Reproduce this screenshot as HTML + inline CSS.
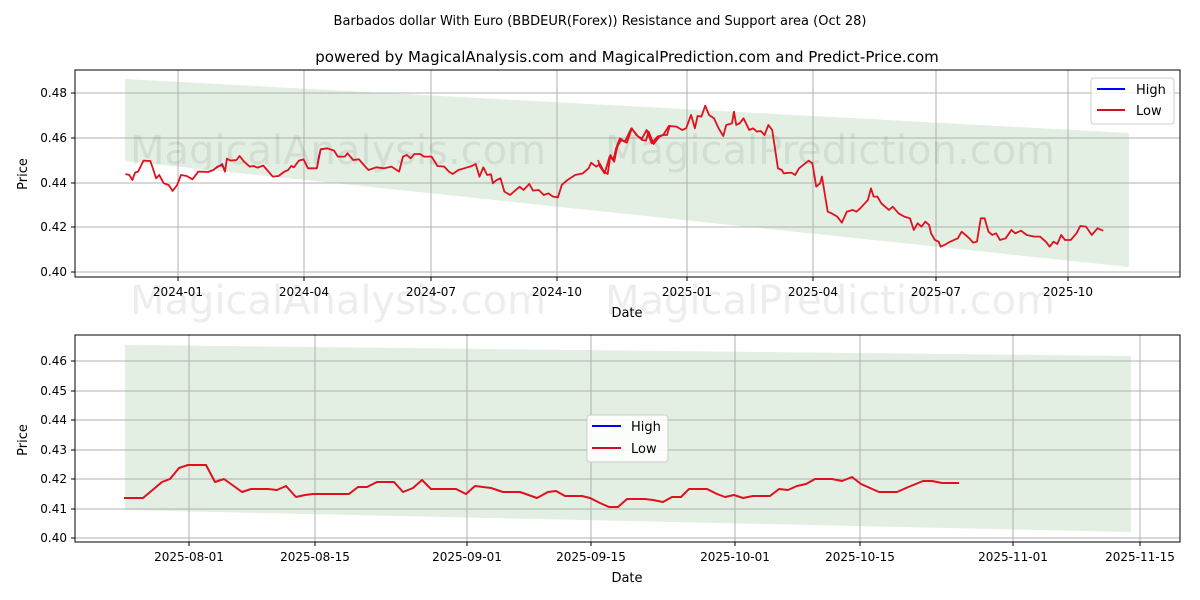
<!DOCTYPE html>
<html><head><meta charset="utf-8"><style>
body{margin:0;background:#fff;}
svg{display:block;font-family:"DejaVu Sans","Liberation Sans",sans-serif;}
</style></head><body>
<svg width="1200" height="600" viewBox="0 0 1200 600">
<text x="600" y="25" font-size="13" text-anchor="middle">Barbados dollar With Euro (BBDEUR(Forex)) Resistance and Support area (Oct 28)</text>
<text x="627" y="62" font-size="15" text-anchor="middle">powered by MagicalAnalysis.com and MagicalPrediction.com and Predict-Price.com</text>

<!-- TOP -->
<polygon points="125,79 1129,133 1129,267 125,161" fill="#e2efe2"/>
<g stroke="#b0b0b0" stroke-width="1">
<line x1="75" x2="1180" y1="93" y2="93"/><line x1="75" x2="1180" y1="138" y2="138"/><line x1="75" x2="1180" y1="183" y2="183"/><line x1="75" x2="1180" y1="227" y2="227"/><line x1="75" x2="1180" y1="272" y2="272"/>
<line x1="178" x2="178" y1="70" y2="277"/><line x1="304" x2="304" y1="70" y2="277"/><line x1="431" x2="431" y1="70" y2="277"/><line x1="557" x2="557" y1="70" y2="277"/><line x1="687" x2="687" y1="70" y2="277"/><line x1="813" x2="813" y1="70" y2="277"/><line x1="936" x2="936" y1="70" y2="277"/><line x1="1068" x2="1068" y1="70" y2="277"/>
</g>
<g font-size="40" fill="#000" fill-opacity="0.07">
<text x="130" y="164">MagicalAnalysis.com</text><text x="605" y="164">MagicalPrediction.com</text>
<text x="130" y="314">MagicalAnalysis.com</text><text x="605" y="314">MagicalPrediction.com</text>
<text x="130" y="466">MagicalAnalysis.com</text><text x="605" y="466">MagicalPrediction.com</text>
</g>
<g transform="translate(70,60) scale(0.3827,0.3333)" fill="none" stroke-linejoin="round">
<polyline vector-effect="non-scaling-stroke" stroke="#0000ff" stroke-width="1.5" points="380,325 398,312 405,335"/>
<polyline vector-effect="non-scaling-stroke" stroke="#0000ff" stroke-width="1.5" points="645,325 650,290 655,268"/>
<polyline vector-effect="non-scaling-stroke" stroke="#e0101e" stroke-width="1.8" points="145,342 155,345 163,360 170,338 178,335 192,302 210,303 218,330 225,355 233,345 245,370 258,375 268,393 280,375 290,345 305,348 320,358 335,335 360,336 375,330 385,320 398,315 405,335 410,296 420,302 435,300 443,288 455,305 470,320 480,318 490,323 505,317 515,330 530,350 545,348 560,335 570,330 578,318 585,322 598,302 610,298 622,325 645,325 655,268 672,265 690,272 700,290 718,290 725,280 740,300 755,298 770,318 780,330 800,322 820,325 840,320 860,335 870,290 880,285 890,295 900,282 915,282 925,290 945,290 960,318 978,320 990,335 1000,342 1015,330 1030,325 1050,318 1060,312 1070,350 1080,322 1090,345 1100,343 1105,370 1115,360 1125,355 1135,395 1150,405 1165,390 1175,380 1185,390 1200,372 1210,392 1225,390 1238,405 1250,400 1262,410 1275,412 1285,375 1300,360 1320,345 1340,340 1355,325 1362,308 1375,320 1385,312 1395,335 1405,342 1412,285 1422,305 1430,260 1440,240 1455,248 1468,205 1480,225 1495,240 1505,242 1512,215 1525,252 1540,230 1550,225 1560,225 1568,195"/>
</g>
<g transform="translate(600,60) scale(0.3827,0.3333)" fill="none" stroke-linejoin="round">
<polyline vector-effect="non-scaling-stroke" stroke="#e0101e" stroke-width="1.8" points="-5,300 0,320 12,340 25,290 35,300 42,265 52,235 65,245 82,205 100,230 110,235 122,210 135,250 150,230 165,225 180,198 200,200 215,210 225,205 238,165 248,205 255,168 265,170 275,137 285,165 298,175 310,205 322,228 330,195 345,190 350,155 356,195 365,190 375,175 390,210 400,205 410,215 420,213 430,225 440,195 450,210 465,325 475,330 480,340 500,338 510,345 520,325 545,302 555,310 565,380 575,370 580,350 595,455 605,460 620,470 632,488 645,455 660,450 670,455 680,445 692,430 700,420 708,385 715,410 725,410 735,430 745,440 755,450 765,440 780,460 795,470 810,475 820,510 830,490 840,500 850,485 860,495 865,520 875,540 885,545 890,560 900,555 915,545 935,535 945,515 955,525 965,535 975,548 985,545 995,475 1005,475 1015,515 1025,525 1035,520 1045,540 1060,535 1075,510 1085,520 1100,512 1115,525 1135,530 1150,530 1165,545 1175,560 1185,545 1195,552 1205,525 1215,540 1230,540 1245,520 1255,498 1270,500 1285,525 1300,505 1315,512"/>
</g>
<rect x="75" y="70" width="1105" height="207" fill="none" stroke="#000" stroke-width="1"/>
<g stroke="#000"><line x1="71" x2="75" y1="93" y2="93"/><line x1="71" x2="75" y1="138" y2="138"/><line x1="71" x2="75" y1="183" y2="183"/><line x1="71" x2="75" y1="227" y2="227"/><line x1="71" x2="75" y1="272" y2="272"/>
<line x1="178" x2="178" y1="277" y2="281"/><line x1="304" x2="304" y1="277" y2="281"/><line x1="431" x2="431" y1="277" y2="281"/><line x1="557" x2="557" y1="277" y2="281"/><line x1="687" x2="687" y1="277" y2="281"/><line x1="813" x2="813" y1="277" y2="281"/><line x1="936" x2="936" y1="277" y2="281"/><line x1="1068" x2="1068" y1="277" y2="281"/></g>
<g font-size="12" text-anchor="end"><text x="67" y="97">0.48</text><text x="67" y="142">0.46</text><text x="67" y="187">0.44</text><text x="67" y="231">0.42</text><text x="67" y="276">0.40</text></g>
<g font-size="12" text-anchor="middle"><text x="178" y="296">2024-01</text><text x="304" y="296">2024-04</text><text x="431" y="296">2024-07</text><text x="557" y="296">2024-10</text><text x="687" y="296">2025-01</text><text x="813" y="296">2025-04</text><text x="936" y="296">2025-07</text><text x="1068" y="296">2025-10</text></g>
<text x="627" y="317" font-size="13" text-anchor="middle">Date</text>
<text transform="translate(27,174) rotate(-90)" font-size="13" text-anchor="middle">Price</text>
<rect x="1091" y="78" width="83" height="46" rx="3" fill="#fff" fill-opacity="0.85" stroke="#ccc"/>
<line x1="1097" x2="1125" y1="89" y2="89" stroke="#0000ff" stroke-width="2"/><text x="1136" y="94" font-size="13">High</text>
<line x1="1097" x2="1125" y1="110" y2="110" stroke="#d0101e" stroke-width="2"/><text x="1136" y="115" font-size="13">Low</text>

<!-- BOTTOM -->
<polygon points="125,345 1131,356 1131,532 125,510" fill="#e2efe2"/>
<g stroke="#b0b0b0" stroke-width="1">
<line x1="75" x2="1180" y1="361" y2="361"/><line x1="75" x2="1180" y1="391" y2="391"/><line x1="75" x2="1180" y1="420" y2="420"/><line x1="75" x2="1180" y1="450" y2="450"/><line x1="75" x2="1180" y1="479" y2="479"/><line x1="75" x2="1180" y1="509" y2="509"/><line x1="75" x2="1180" y1="538" y2="538"/>
<line x1="189" x2="189" y1="335" y2="542"/><line x1="315" x2="315" y1="335" y2="542"/><line x1="467" x2="467" y1="335" y2="542"/><line x1="591" x2="591" y1="335" y2="542"/><line x1="735" x2="735" y1="335" y2="542"/><line x1="860" x2="860" y1="335" y2="542"/><line x1="1013" x2="1013" y1="335" y2="542"/><line x1="1140" x2="1140" y1="335" y2="542"/>
</g>
<polyline fill="none" stroke="#e0101e" stroke-width="2" stroke-linejoin="round" points="124,498 143,498 162,482 170,479 179,468 188,465 206,465 215,482 224,479 242,492 251,489 268,489 277,490 286,486 296,497 305,495 313,494 340,494 349,494 358,487 367,487 377,482 394,482 403,492 413,488 422,480 431,489 456,489 466,494 475,486 491,488 503,492 520,492 537,498 548,492 556,491 565,496 582,496 590,498 600,503 609,507 618,507 627,499 645,499 653,500 663,502 672,497 681,497 689,489 707,489 717,494 725,497 734,495 743,498 753,496 770,496 779,489 788,490 797,486 806,484 815,479 832,479 842,481 852,477 861,484 870,488 879,492 897,492 906,488 923,481 932,481 942,483 959,483"/>
<rect x="75" y="335" width="1105" height="207" fill="none" stroke="#000" stroke-width="1"/>
<g stroke="#000"><line x1="71" x2="75" y1="361" y2="361"/><line x1="71" x2="75" y1="391" y2="391"/><line x1="71" x2="75" y1="420" y2="420"/><line x1="71" x2="75" y1="450" y2="450"/><line x1="71" x2="75" y1="479" y2="479"/><line x1="71" x2="75" y1="509" y2="509"/><line x1="71" x2="75" y1="538" y2="538"/>
<line x1="189" x2="189" y1="542" y2="546"/><line x1="315" x2="315" y1="542" y2="546"/><line x1="467" x2="467" y1="542" y2="546"/><line x1="591" x2="591" y1="542" y2="546"/><line x1="735" x2="735" y1="542" y2="546"/><line x1="860" x2="860" y1="542" y2="546"/><line x1="1013" x2="1013" y1="542" y2="546"/><line x1="1140" x2="1140" y1="542" y2="546"/></g>
<g font-size="12" text-anchor="end"><text x="67" y="365">0.46</text><text x="67" y="395">0.45</text><text x="67" y="424">0.44</text><text x="67" y="454">0.43</text><text x="67" y="483">0.42</text><text x="67" y="513">0.41</text><text x="67" y="542">0.40</text></g>
<g font-size="12" text-anchor="middle"><text x="189" y="561">2025-08-01</text><text x="315" y="561">2025-08-15</text><text x="467" y="561">2025-09-01</text><text x="591" y="561">2025-09-15</text><text x="735" y="561">2025-10-01</text><text x="860" y="561">2025-10-15</text><text x="1013" y="561">2025-11-01</text><text x="1140" y="561">2025-11-15</text></g>
<text x="627" y="582" font-size="13" text-anchor="middle">Date</text>
<text transform="translate(27,440) rotate(-90)" font-size="13" text-anchor="middle">Price</text>
<rect x="587" y="415" width="81" height="47" rx="3" fill="#fff" fill-opacity="0.85" stroke="#ccc"/>
<line x1="592" x2="621" y1="426" y2="426" stroke="#0000ff" stroke-width="2"/><text x="631" y="431" font-size="13">High</text>
<line x1="592" x2="621" y1="448" y2="448" stroke="#d0101e" stroke-width="2"/><text x="631" y="453" font-size="13">Low</text>
</svg>
</body></html>
